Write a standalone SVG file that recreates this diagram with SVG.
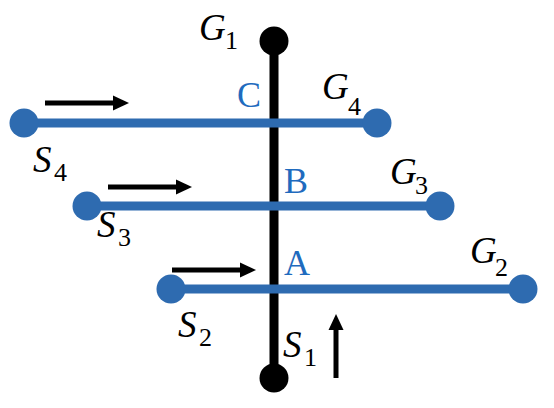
<svg xmlns="http://www.w3.org/2000/svg" width="554" height="408" viewBox="0 0 554 408">
<style>
.blk{stroke:#000;stroke-width:9;fill:none}
.blu{stroke:#2E6BB0;stroke-width:9;fill:none}
.arr{stroke:#000;stroke-width:5;fill:none}
.head{fill:#000}
.bdot{fill:#2E6BB0}
.kdot{fill:#000}
.m{font-family:"Liberation Serif","DejaVu Serif",serif;font-style:italic;font-size:37px;fill:#000}
.s{font-family:"Liberation Serif","DejaVu Serif",serif;font-size:26px;fill:#000}
.pt{font-family:"Liberation Serif","DejaVu Serif",serif;font-size:36px;fill:#1F6BBE}
</style>
<rect width="554" height="408" fill="#fff"/>
<g id="connectors">
<line class="blk" x1="274" y1="41" x2="274" y2="378"/>
<line class="blu" x1="24" y1="123" x2="377" y2="123"/>
<line class="blu" x1="87" y1="206" x2="440" y2="206"/>
<line class="blu" x1="171" y1="289" x2="523" y2="289"/>
<line class="arr" x1="45" y1="103" x2="114" y2="103"/>
<polygon class="head" points="113,95.5 129,103 113,110.5"/>
<line class="arr" x1="108" y1="187" x2="177" y2="187"/>
<polygon class="head" points="176,179.5 192,187 176,194.5"/>
<line class="arr" x1="172" y1="270" x2="241" y2="270"/>
<polygon class="head" points="240,262.5 256,270 240,277.5"/>
<line class="arr" x1="336" y1="378" x2="336" y2="329"/>
<polygon class="head" points="328.5,330 336,314 343.5,330"/>
</g>
<g id="G1"><circle class="kdot" cx="274" cy="41" r="14.5"/><text class="m" x="199" y="40">G</text><text class="s" x="225" y="49">1</text></g>
<g id="S1"><circle class="kdot" cx="274" cy="378" r="14.5"/><text class="m" x="283" y="357">S</text><text class="s" x="304" y="366">1</text></g>
<g id="S4"><circle class="bdot" cx="24" cy="123" r="14.5"/><text class="m" x="33" y="172">S</text><text class="s" x="54" y="181">4</text></g>
<g id="G4"><circle class="bdot" cx="377" cy="123" r="14.5"/><text class="m" x="322" y="99">G</text><text class="s" x="348" y="115">4</text></g>
<g id="S3"><circle class="bdot" cx="87" cy="206" r="14.5"/><text class="m" x="97" y="237">S</text><text class="s" x="118" y="246">3</text></g>
<g id="G3"><circle class="bdot" cx="440" cy="206" r="14.5"/><text class="m" x="390" y="184">G</text><text class="s" x="415" y="194">3</text></g>
<g id="S2"><circle class="bdot" cx="171" cy="289" r="14.5"/><text class="m" x="178" y="337">S</text><text class="s" x="199" y="346">2</text></g>
<g id="G2"><circle class="bdot" cx="523" cy="289" r="14.5"/><text class="m" x="470" y="263">G</text><text class="s" x="495" y="276">2</text></g>
<g id="C"><text class="pt" x="237" y="107">C</text></g>
<g id="B"><text class="pt" x="284" y="193">B</text></g>
<g id="A"><text class="pt" x="284" y="275">A</text></g>
</svg>
